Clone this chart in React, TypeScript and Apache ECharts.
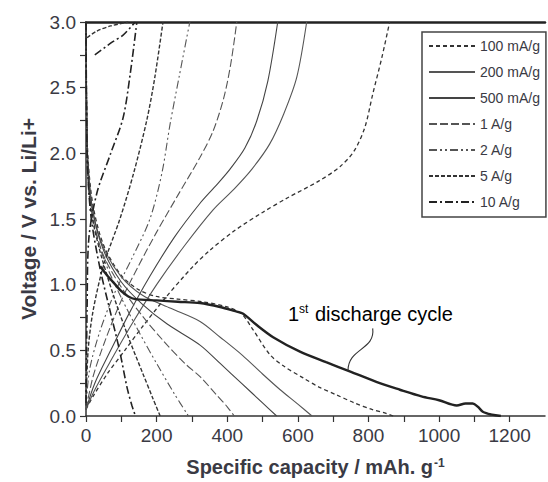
import React, { useEffect, useRef } from 'react';
import * as echarts from 'echarts';

type Pt = [number, number];

// Rate names (legend)
const rateNames = ['100 mA/g', '200 mA/g', '500 mA/g', '1 A/g', '2 A/g', '5 A/g', '10 A/g'];

// Discharge curves: [capacity mAh/g, voltage V]
const discharge100: Pt[] = [[0,3.0],[2,2.35],[6,1.95],[20,1.6],[50,1.3],[100,1.07],[150,0.96],[200,0.91],[260,0.89],[330,0.87],[400,0.83],[440,0.78],[470,0.67],[520,0.47],[560,0.38],[615,0.29],[660,0.22],[710,0.16],[760,0.1],[810,0.05],[850,0.02],[870,0]];
const discharge200: Pt[] = [[0,3.0],[2,2.3],[6,1.9],[20,1.55],[50,1.28],[100,1.06],[160,0.92],[240,0.82],[323,0.72],[380,0.6],[444,0.46],[500,0.32],[550,0.2],[600,0.09],[640,0]];
const discharge500: Pt[] = [[0,3.0],[2,2.3],[6,1.9],[20,1.55],[50,1.26],[100,1.02],[160,0.85],[230,0.7],[323,0.54],[380,0.4],[440,0.25],[500,0.1],[540,0]];
const discharge1A: Pt[] = [[0,3.0],[2,2.25],[6,1.85],[20,1.5],[50,1.22],[100,0.98],[160,0.76],[220,0.57],[280,0.4],[323,0.3],[370,0.16],[400,0.07],[420,0]];
const discharge2A: Pt[] = [[0,3.0],[2,2.25],[6,1.85],[20,1.5],[50,1.2],[100,0.9],[150,0.64],[200,0.4],[250,0.17],[290,0]];
const discharge5A: Pt[] = [[0,3.0],[2,2.2],[5,1.85],[15,1.55],[40,1.25],[80,0.9],[120,0.6],[160,0.33],[190,0.13],[210,0]];
const discharge10A: Pt[] = [[0,3.0],[2,2.2],[5,1.85],[15,1.5],[40,1.12],[70,0.78],[95,0.5],[116,0.22],[130,0.08],[140,0]];

// Charge curves
const charge100: Pt[] = [[0,0.05],[20,0.15],[60,0.32],[110,0.5],[160,0.68],[225,0.9],[300,1.13],[350,1.26],[420,1.41],[500,1.55],[570,1.66],[660,1.79],[720,1.9],[760,2.02],[790,2.2],[812,2.45],[838,2.73],[860,3.0]];
const charge200: Pt[] = [[0,0.05],[25,0.2],[70,0.42],[130,0.7],[200,1.0],[280,1.3],[360,1.57],[420,1.73],[470,1.88],[520,2.07],[560,2.3],[597,2.58],[625,3.0]];
const charge500: Pt[] = [[0,0.05],[25,0.25],[70,0.5],[120,0.77],[180,1.06],[250,1.36],[323,1.62],[370,1.76],[408,1.88],[450,2.04],[484,2.25],[515,2.55],[543,3.0]];
const charge1A: Pt[] = [[0,0.05],[20,0.3],[55,0.58],[100,0.88],[150,1.15],[200,1.4],[260,1.68],[323,1.97],[360,2.17],[390,2.42],[410,2.68],[427,3.0]];
const charge2A: Pt[] = [[0,0.05],[10,0.35],[40,0.65],[80,0.93],[130,1.2],[181,1.5],[215,1.85],[238,2.22],[265,2.6],[294,3.0]];
const charge5A: Pt[] = [[0,0.08],[6,0.5],[20,0.8],[50,1.15],[96,1.5],[135,1.85],[172,2.25],[195,2.58],[218,3.0]];
const charge10A: Pt[] = [[0,0.1],[3,0.8],[8,1.35],[31,1.7],[70,2.0],[105,2.27],[125,2.6],[144,3.0]];

// Short high-voltage segments near the top-left corner
const upper10A: Pt[] = [[25,2.75],[76,2.85],[105,2.9],[133,2.98],[140,3.0]];
const upper5A: Pt[] = [[3,2.88],[30,2.93],[70,2.97],[120,3.0]];

// First discharge cycle
const firstDischarge: Pt[] = [[40,1.14],[60,1.07],[80,1.01],[100,0.95],[120,0.91],[139,0.89],[200,0.88],[260,0.87],[323,0.86],[380,0.83],[420,0.8],[444,0.78],[480,0.7],[530,0.6],[606,0.49],[680,0.41],[747,0.34],[832,0.25],[889,0.2],[950,0.15],[1000,0.12],[1050,0.08],[1075,0.095],[1095,0.095],[1110,0.07],[1125,0.03],[1150,0.01],[1175,0]];

// Annotation (data coordinates)
const annotationText = '{a|1}{b|st}{a| discharge cycle}';
const annotationAnchor: Pt = [572, 0.78];
const leaderCurve: Pt[] = [[812, 0.667], [820, 0.5], [742, 0.52], [742, 0.345]];

const rateCurves: Record<string, Pt[][]> = {
  '100 mA/g': [discharge100, charge100],
  '200 mA/g': [discharge200, charge200],
  '500 mA/g': [discharge500, charge500],
  '1 A/g': [discharge1A, charge1A],
  '2 A/g': [discharge2A, charge2A],
  '5 A/g': [discharge5A, charge5A, upper5A],
  '10 A/g': [discharge10A, charge10A, upper10A],
};

const lineStyles: Record<string, any> = {
  '100 mA/g': { type: [4, 3], width: 1.3, color: '#333' },
  '200 mA/g': { type: 'solid', width: 1.1, color: '#555' },
  '500 mA/g': { type: 'solid', width: 1.1, color: '#444' },
  '1 A/g': { type: [8, 3], width: 1.1, color: '#555' },
  '2 A/g': { type: [8, 3, 2, 3, 2, 3], width: 1.1, color: '#555' },
  '5 A/g': { type: [4, 2], width: 1.4, color: '#333' },
  '10 A/g': { type: [8, 3, 2, 3], width: 1.6, color: '#222' },
};

const FONT = '"Liberation Sans", Arial, sans-serif';
const TEXT = '#3a3a44';

export default function App() {
  const ref = useRef<HTMLDivElement>(null);
  useEffect(() => {
    if (!ref.current) return;
    const chart = echarts.init(ref.current, null, { renderer: 'svg' });
    const series: any[] = [];
    rateNames.forEach((name) => {
      rateCurves[name].forEach((pts) => {
        series.push({
          name,
          type: 'line',
          data: pts,
          symbol: 'none',
          smooth: 0.3,
          lineStyle: lineStyles[name],
          itemStyle: { color: lineStyles[name].color },
          xAxisIndex: 0,
          yAxisIndex: 0,
          z: 2,
        });
      });
    });
    series.push({
      name: '1st discharge',
      type: 'line',
      data: firstDischarge,
      symbol: 'none',
      smooth: 0.3,
      lineStyle: { type: 'solid', width: 2.4, color: '#222' },
      xAxisIndex: 0,
      yAxisIndex: 0,
      z: 3,
    });

    const option: any = {
      animation: false,
      backgroundColor: '#fff',
      grid: { left: 86, right: 3, top: 22, bottom: 64, containLabel: false },
      legend: {
        data: rateNames,
        orient: 'vertical',
        left: 422,
        top: 32,
        itemWidth: 46,
        itemHeight: 14,
        itemGap: 12,
        padding: [7, 6, 8, 6],
        borderColor: '#444',
        borderWidth: 1.5,
        backgroundColor: '#fff',
        itemStyle: { opacity: 0 },
        textStyle: { fontSize: 14, color: TEXT, fontFamily: FONT },
        selectedMode: false,
      },
      xAxis: [
        {
          type: 'value',
          min: 0,
          max: 1300,
          interval: 100,
          name: '{t|Specific capacity / mAh. g}{s|-1}',
          nameLocation: 'middle',
          nameGap: 41,
          nameTextStyle: {
            rich: {
              t: { fontSize: 20, fontWeight: 'bold', color: TEXT, fontFamily: FONT },
              s: { fontSize: 12, fontWeight: 'bold', color: TEXT, fontFamily: FONT, verticalAlign: 'top', padding: [0, 0, 8, 1] },
            },
          },
          axisLine: { show: true, onZero: false, lineStyle: { color: '#333', width: 1.5 } },
          axisTick: { show: true, length: 6, lineStyle: { color: '#333', width: 1.2 } },
          axisLabel: {
            fontSize: 19,
            color: TEXT,
            fontFamily: FONT,
            margin: 10,
            showMaxLabel: false,
            formatter: (v: number) => (v % 200 === 0 ? String(v) : ''),
          },
          splitLine: { show: false },
        },
        {
          type: 'value',
          position: 'top',
          min: 0,
          max: 1300,
          axisLine: { show: true, onZero: false, lineStyle: { color: '#222', width: 2.5 } },
          axisTick: { show: false },
          axisLabel: { show: false },
          splitLine: { show: false },
        },
      ],
      yAxis: {
        type: 'value',
        min: 0,
        max: 3,
        interval: 0.25,
        name: 'Voltage / V vs. Li/Li+',
        nameLocation: 'middle',
        nameGap: 46,
        nameTextStyle: { fontSize: 21, fontWeight: 'bold', color: TEXT, fontFamily: FONT },
        axisLine: { show: true, onZero: false, lineStyle: { color: '#333', width: 1.5 } },
        axisTick: { show: true, length: 6, lineStyle: { color: '#333', width: 1.2 } },
        axisLabel: {
          fontSize: 19,
          color: TEXT,
          fontFamily: FONT,
          margin: 10,
          formatter: (v: number) => (Math.abs(v * 2 - Math.round(v * 2)) < 1e-6 ? v.toFixed(1) : ''),
        },
        splitLine: { show: false },
      },
      series,
    };
    chart.setOption(option);

    const px = (p: Pt) => chart.convertToPixel({ xAxisIndex: 0, yAxisIndex: 0 }, p) as number[];
    const a = px(annotationAnchor);
    const l0 = px(leaderCurve[0]);
    const l1 = px(leaderCurve[1]);
    const l2 = px(leaderCurve[2]);
    const l3 = px(leaderCurve[3]);
    chart.setOption({
      graphic: [
        {
          type: 'text',
          x: a[0],
          y: a[1],
          z: 10,
          style: {
            text: annotationText,
            verticalAlign: 'middle',
            align: 'left',
            rich: {
              a: { fontSize: 20, color: TEXT, fontFamily: FONT },
              b: { fontSize: 12, color: TEXT, fontFamily: FONT, verticalAlign: 'top', padding: [0, 1, 9, 0] },
            },
          },
        },
        {
          type: 'bezierCurve',
          z: 10,
          shape: { x1: l0[0], y1: l0[1], cpx1: l1[0], cpy1: l1[1], cpx2: l2[0], cpy2: l2[1], x2: l3[0], y2: l3[1] },
          style: { stroke: '#333', lineWidth: 1.1, fill: null },
        },
      ],
    });
    return () => chart.dispose();
  }, []);
  return <div ref={ref} style={{ position: 'absolute', left: 0, top: 0, width: 548, height: 482 }} />;
}
